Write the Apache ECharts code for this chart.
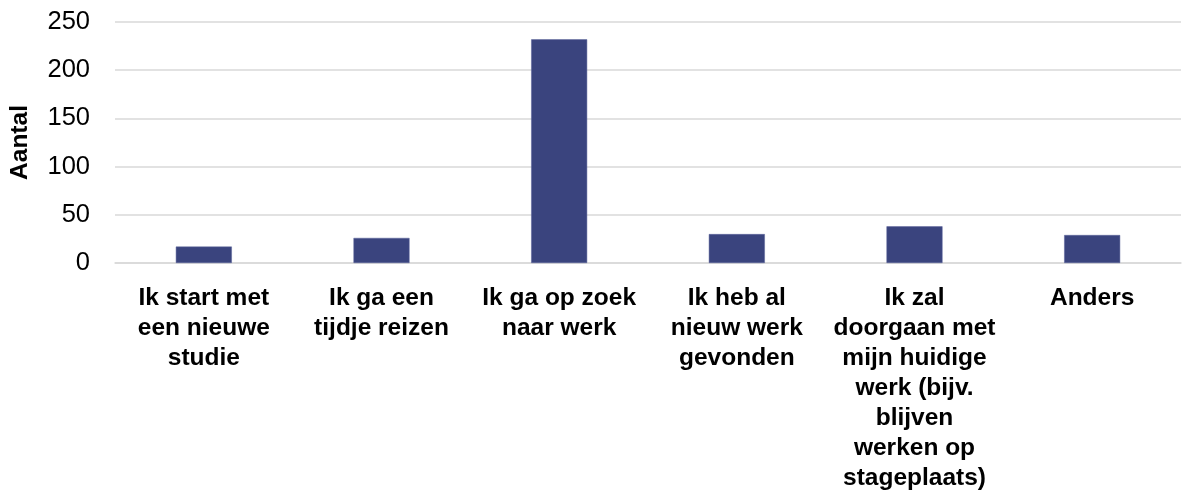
<!DOCTYPE html>
<html>
<head>
<meta charset="utf-8">
<script src="https://cdn.jsdelivr.net/npm/echarts@6/dist/echarts.min.js"></script>
<style>
html,body{margin:0;padding:0;background:#fff;}
#chart{width:1187px;height:494px;}
</style>
</head>
<body>
<div id="chart"></div>
<script>
const categories = [
  "Ik start met\neen nieuwe\nstudie",
  "Ik ga een\ntijdje reizen",
  "Ik ga op zoek\nnaar werk",
  "Ik heb al\nnieuw werk\ngevonden",
  "Ik zal\ndoorgaan met\nmijn huidige\nwerk (bijv.\nblijven\nwerken op\nstageplaats)",
  "Anders"
];
const values = [17, 26, 232, 30, 38, 29];
const yAxisName = "Aantal";
const yMin = 0, yMax = 250, yInterval = 50;

const chart = echarts.init(document.getElementById('chart'), null, {renderer: 'canvas'});
const font = "Arial, 'Liberation Sans', sans-serif";
chart.setOption({
  animation: false,
  backgroundColor: '#ffffff',
  grid: {left: 111, right: 6, top: 22, bottom: 231, containLabel: false},
  xAxis: {
    type: 'category',
    data: categories,
    axisLine: {show: true, lineStyle: {color: '#D9D9D9', width: 1.5}},
    axisTick: {show: false},
    axisLabel: {
      interval: 0,
      margin: 20,
      color: '#000000',
      fontFamily: font,
      fontWeight: 'bold',
      fontSize: 24.5,
      lineHeight: 30,
      align: 'center'
    }
  },
  yAxis: {
    type: 'value',
    min: yMin, max: yMax, interval: yInterval,
    name: yAxisName,
    nameLocation: 'middle',
    nameGap: 82,
    nameTextStyle: {color: '#000000', fontFamily: font, fontWeight: 'bold', fontSize: 24.5},
    axisLine: {show: false},
    axisTick: {show: false},
    axisLabel: {color: '#000000', fontFamily: font, fontSize: 25.5, margin: 25},
    splitLine: {show: true, lineStyle: {color: '#D9D9D9', width: 1.5}}
  },
  series: [{
    type: 'bar',
    data: values,
    barWidth: 56,
    itemStyle: {color: '#3A447E', borderColor: '#5A639A', borderWidth: 0.5}
  }]
});
</script>
</body>
</html>
